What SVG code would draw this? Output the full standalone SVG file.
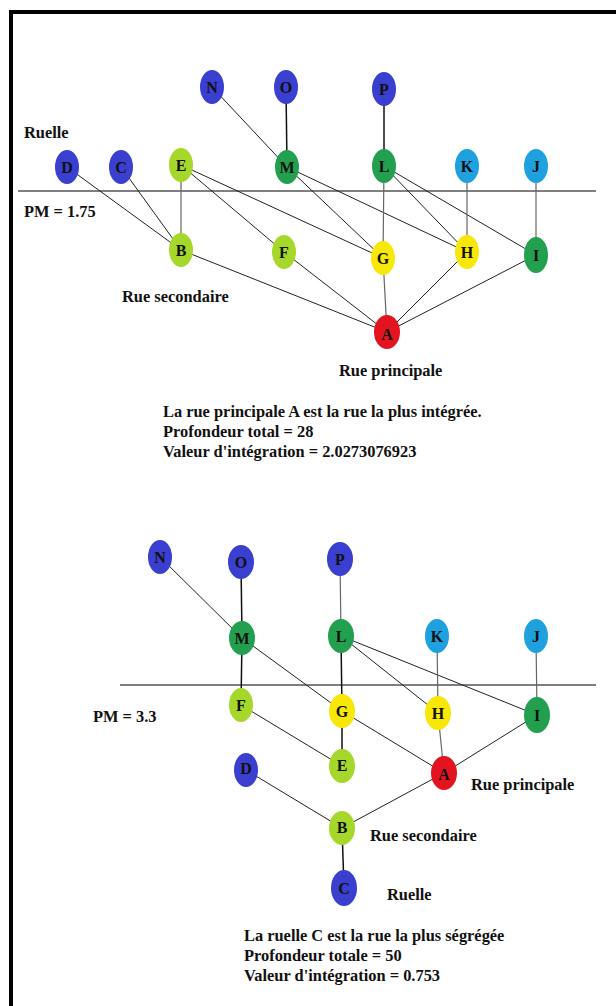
<svg xmlns="http://www.w3.org/2000/svg" width="616" height="1006" viewBox="0 0 616 1006">
<style>
.lbl{font-family:"Liberation Serif","Times New Roman",serif;font-weight:bold;font-size:16.4px;fill:#111}
.nt{font-family:"Liberation Serif","Times New Roman",serif;font-weight:bold;font-size:16px;fill:#111;text-anchor:middle;dominant-baseline:central}
.e{stroke:#222;stroke-width:1;fill:none}
.v{stroke:#666;stroke-width:1.2;fill:none}
.k{stroke:#111;stroke-width:1.5;fill:none}
.hl{stroke:#555;stroke-width:1.3}
.blue{fill:#3a3fcf}
.lg{fill:#a6d82c}
.dg{fill:#23a04f}
.cy{fill:#1fa1df}
.ye{fill:#f7e80a}
.rd{fill:#e3141f}
</style>
<rect x="0" y="0" width="616" height="1006" fill="#fff"/>
<path d="M11 1006 V12 H616" stroke="#000" stroke-width="4" fill="none"/>

<g id="connectors-top">
<line class="hl" x1="18" y1="191" x2="596" y2="191"/>
<line class="e" x1="212" y1="87" x2="287" y2="167"/>
<line class="k" x1="286" y1="87" x2="287" y2="167"/>
<line class="k" x1="384" y1="89" x2="384" y2="166"/>
<line class="e" x1="67" y1="167" x2="181" y2="250"/>
<line class="e" x1="121" y1="167" x2="181" y2="250"/>
<line class="v" x1="181" y1="165" x2="181" y2="250"/>
<line class="e" x1="181" y1="165" x2="284" y2="252"/>
<line class="e" x1="181" y1="165" x2="383" y2="258"/>
<line class="e" x1="287" y1="167" x2="383" y2="258"/>
<line class="e" x1="287" y1="167" x2="467" y2="252"/>
<line class="v" x1="384" y1="166" x2="383" y2="258"/>
<line class="e" x1="384" y1="166" x2="467" y2="252"/>
<line class="e" x1="384" y1="166" x2="536" y2="255"/>
<line class="v" x1="467" y1="166" x2="467" y2="252"/>
<line class="v" x1="536" y1="166" x2="536" y2="255"/>
<line class="e" x1="181" y1="250" x2="387" y2="332"/>
<line class="e" x1="284" y1="252" x2="387" y2="332"/>
<line class="v" x1="383" y1="258" x2="387" y2="332"/>
<line class="e" x1="467" y1="252" x2="387" y2="332"/>
<line class="e" x1="536" y1="255" x2="387" y2="332"/>
</g>

<g id="connectors-bottom">
<line class="hl" x1="120" y1="685" x2="596" y2="685"/>
<line class="e" x1="160" y1="557" x2="242" y2="638"/>
<line class="k" x1="241" y1="562" x2="242" y2="638"/>
<line class="v" x1="340" y1="559" x2="341" y2="636"/>
<line class="k" x1="242" y1="638" x2="241" y2="705"/>
<line class="e" x1="242" y1="638" x2="342" y2="711"/>
<line class="k" x1="341" y1="636" x2="342" y2="711"/>
<line class="e" x1="341" y1="636" x2="438" y2="713"/>
<line class="e" x1="341" y1="636" x2="537" y2="715"/>
<line class="v" x1="437" y1="636" x2="438" y2="713"/>
<line class="v" x1="536" y1="636" x2="537" y2="715"/>
<line class="e" x1="241" y1="705" x2="342" y2="766"/>
<line class="k" x1="342" y1="711" x2="342" y2="766"/>
<line class="e" x1="342" y1="711" x2="444" y2="773"/>
<line class="v" x1="438" y1="713" x2="444" y2="773"/>
<line class="e" x1="537" y1="715" x2="444" y2="773"/>
<line class="e" x1="246" y1="770" x2="342" y2="828"/>
<line class="e" x1="444" y1="773" x2="342" y2="828"/>
<line class="k" x1="342" y1="828" x2="344" y2="888"/>
</g>

<g id="top-N"><ellipse class="blue" cx="212" cy="87" rx="12" ry="17"/><text class="nt" x="212" y="87">N</text></g>
<g id="top-O"><ellipse class="blue" cx="286" cy="87" rx="12" ry="17"/><text class="nt" x="286" y="87">O</text></g>
<g id="top-P"><ellipse class="blue" cx="384" cy="89" rx="12" ry="17"/><text class="nt" x="384" y="89">P</text></g>
<g id="top-D"><ellipse class="blue" cx="67" cy="167" rx="12" ry="17"/><text class="nt" x="67" y="167">D</text></g>
<g id="top-C"><ellipse class="blue" cx="121" cy="167" rx="12" ry="17"/><text class="nt" x="121" y="167">C</text></g>
<g id="top-E"><ellipse class="lg" cx="181" cy="165" rx="12" ry="17"/><text class="nt" x="181" y="165">E</text></g>
<g id="top-M"><ellipse class="dg" cx="287" cy="167" rx="12" ry="17"/><text class="nt" x="287" y="167">M</text></g>
<g id="top-L"><ellipse class="dg" cx="384" cy="166" rx="12" ry="17"/><text class="nt" x="384" y="166">L</text></g>
<g id="top-K"><ellipse class="cy" cx="467" cy="166" rx="12" ry="17"/><text class="nt" x="467" y="166">K</text></g>
<g id="top-J"><ellipse class="cy" cx="536" cy="166" rx="12" ry="17"/><text class="nt" x="536" y="166">J</text></g>
<g id="top-B"><ellipse class="lg" cx="181" cy="250" rx="12" ry="17"/><text class="nt" x="181" y="250">B</text></g>
<g id="top-F"><ellipse class="lg" cx="284" cy="252" rx="12" ry="17"/><text class="nt" x="284" y="252">F</text></g>
<g id="top-G"><ellipse class="ye" cx="383" cy="258" rx="12" ry="17"/><text class="nt" x="383" y="258">G</text></g>
<g id="top-H"><ellipse class="ye" cx="467" cy="252" rx="12" ry="17"/><text class="nt" x="467" y="252">H</text></g>
<g id="top-I"><ellipse class="dg" cx="536" cy="255" rx="12" ry="18"/><text class="nt" x="536" y="255">I</text></g>
<g id="top-A"><ellipse class="rd" cx="387" cy="332" rx="13" ry="17"/><text class="nt" x="387" y="334">A</text></g>

<g id="top-labels">
<text class="lbl" x="24" y="138">Ruelle</text>
<text class="lbl" x="24" y="217">PM = 1.75</text>
<text class="lbl" x="122" y="302">Rue secondaire</text>
<text class="lbl" x="339" y="376">Rue principale</text>
<text class="lbl" x="163" y="417">La rue principale A est la rue la plus intégrée.</text>
<text class="lbl" x="163" y="437">Profondeur total = 28</text>
<text class="lbl" x="163" y="457">Valeur d'intégration = 2.0273076923</text>
</g>

<g id="bot-N"><ellipse class="blue" cx="160" cy="557" rx="12" ry="17"/><text class="nt" x="160" y="557">N</text></g>
<g id="bot-O"><ellipse class="blue" cx="241" cy="562" rx="13" ry="17"/><text class="nt" x="241" y="562">O</text></g>
<g id="bot-P"><ellipse class="blue" cx="340" cy="559" rx="13" ry="17"/><text class="nt" x="340" y="559">P</text></g>
<g id="bot-M"><ellipse class="dg" cx="242" cy="638" rx="13" ry="17"/><text class="nt" x="242" y="638">M</text></g>
<g id="bot-L"><ellipse class="dg" cx="341" cy="636" rx="13" ry="17"/><text class="nt" x="341" y="636">L</text></g>
<g id="bot-K"><ellipse class="cy" cx="437" cy="636" rx="12" ry="17"/><text class="nt" x="437" y="636">K</text></g>
<g id="bot-J"><ellipse class="cy" cx="536" cy="636" rx="12" ry="17"/><text class="nt" x="536" y="636">J</text></g>
<g id="bot-F"><ellipse class="lg" cx="241" cy="705" rx="12" ry="17"/><text class="nt" x="241" y="705">F</text></g>
<g id="bot-G"><ellipse class="ye" cx="342" cy="711" rx="13" ry="17"/><text class="nt" x="342" y="711">G</text></g>
<g id="bot-H"><ellipse class="ye" cx="438" cy="713" rx="13" ry="17"/><text class="nt" x="438" y="713">H</text></g>
<g id="bot-I"><ellipse class="dg" cx="537" cy="715" rx="13" ry="18"/><text class="nt" x="537" y="715">I</text></g>
<g id="bot-D"><ellipse class="blue" cx="246" cy="770" rx="12" ry="17"/><text class="nt" x="246" y="768">D</text></g>
<g id="bot-E"><ellipse class="lg" cx="342" cy="766" rx="13" ry="17"/><text class="nt" x="342" y="765">E</text></g>
<g id="bot-A"><ellipse class="rd" cx="444" cy="773" rx="13" ry="17"/><text class="nt" x="444" y="774">A</text></g>
<g id="bot-B"><ellipse class="lg" cx="342" cy="828" rx="13" ry="17"/><text class="nt" x="342" y="827">B</text></g>
<g id="bot-C"><ellipse class="blue" cx="344" cy="888" rx="13" ry="18"/><text class="nt" x="344" y="888">C</text></g>

<g id="bottom-labels">
<text class="lbl" x="93" y="722">PM = 3.3</text>
<text class="lbl" x="471" y="790">Rue principale</text>
<text class="lbl" x="370" y="841">Rue secondaire</text>
<text class="lbl" x="387" y="900">Ruelle</text>
<text class="lbl" x="244" y="941">La ruelle C est la rue la plus ségrégée</text>
<text class="lbl" x="244" y="961">Profondeur totale = 50</text>
<text class="lbl" x="244" y="981">Valeur d'intégration = 0.753</text>
</g>
</svg>
